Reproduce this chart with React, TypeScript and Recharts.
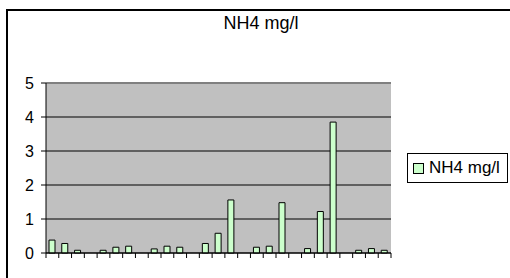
import { Bar, BarChart, CartesianGrid, Legend, ReferenceLine, XAxis, YAxis } from 'recharts';

const samples = [
    'S1', 'S2', 'S3', 'S4', 'S5', 'S6', 'S7', 'S8', 'S9',
    'S10', 'S11', 'S12', 'S13', 'S14', 'S15', 'S16', 'S17', 'S18',
    'S19', 'S20', 'S21', 'S22', 'S23', 'S24', 'S25', 'S26', 'S27',
];
const nh4 = [
    0.38, 0.28, 0.08, null, 0.08, 0.17, 0.2, null, 0.12,
    0.2, 0.17, null, 0.28, 0.58, 1.56, null, 0.17, 0.2,
    1.48, null, 0.13, 1.22, 3.85, null, 0.08, 0.13, 0.08,
];
const yTicks = [0, 1, 2, 3, 4, 5];

const data = samples.map((name, i) => ({ name, nh4: nh4[i] }));

const FONT = '"Liberation Sans", Arial, sans-serif';
const PLOT_W = 345;
const PLOT_BOTTOM = 253;
const step = PLOT_W / samples.length;

// excel style: tick marks sit between the categories, not under them
function BoundaryTick(props: any) {
    const { x, index } = props;
    const left = x - step / 2;
    return (
        <g>
            <line x1={left} x2={left} y1={PLOT_BOTTOM} y2={PLOT_BOTTOM + 5} stroke="#000" />
            {index === samples.length - 1 && (
                <line x1={x + step / 2} x2={x + step / 2} y1={PLOT_BOTTOM} y2={PLOT_BOTTOM + 5} stroke="#000" />
            )}
        </g>
    );
}

function LegendBox() {
    return (
        <div
            style={{
                border: '1px solid #000',
                background: '#fff',
                width: 99,
                height: 28,
                display: 'flex',
                alignItems: 'center',
                fontFamily: FONT,
                fontSize: 17,
                color: '#000',
            }}
        >
            <span
                style={{
                    display: 'inline-block',
                    width: 9,
                    height: 9,
                    background: '#ccffcc',
                    border: '1px solid #000',
                    marginLeft: 5,
                    marginRight: 5,
                }}
            />
            NH4 mg/l
        </div>
    );
}

export default function App() {
    return (
        <div
            style={{
                position: 'absolute',
                left: 0,
                top: 0,
                width: 510,
                height: 278,
                overflow: 'hidden',
                background: '#fff',
            }}
        >
            <div
                style={{
                    position: 'absolute',
                    left: 6,
                    top: 9,
                    width: 600,
                    height: 400,
                    borderLeft: '2px solid #000',
                    borderTop: '2px solid #000',
                }}
            />
            <div
                style={{
                    position: 'absolute',
                    left: 0,
                    top: 13,
                    width: 522,
                    textAlign: 'center',
                    fontFamily: FONT,
                    fontSize: 18,
                    color: '#000',
                }}
            >
                NH4 mg/l
            </div>
            <div style={{ position: 'absolute', left: 0, top: 0 }}>
                <BarChart
                    width={510}
                    height={278}
                    data={data}
                    margin={{ top: 83, right: 119, bottom: 15, left: 0 }}
                    barSize={6}
                >
                    <CartesianGrid
                        vertical={false}
                        fill="#c0c0c0"
                        stroke="#000"
                        fillOpacity={1}
                    />
                    <XAxis
                        dataKey="name"
                        height={10}
                        interval={0}
                        tickLine={false}
                        axisLine={{ stroke: '#000' }}
                        tick={<BoundaryTick />}
                    />
                    <YAxis
                        width={46}
                        domain={[0, 5]}
                        ticks={yTicks}
                        tickSize={5}
                        tickMargin={7}
                        axisLine={{ stroke: '#000' }}
                        tickLine={{ stroke: '#000' }}
                        tick={{ fill: '#000', fontSize: 16, fontFamily: FONT }}
                    />
                    <YAxis
                        yAxisId="frame"
                        orientation="right"
                        width={0}
                        domain={[0, 5]}
                        tick={false}
                        tickLine={false}
                        axisLine={{ stroke: '#808080', strokeWidth: 2 }}
                    />
                    <ReferenceLine y={5} stroke="#808080" strokeWidth={2} />
                    <Legend
                        layout="horizontal"
                        align="center"
                        verticalAlign="middle"
                        content={<LegendBox />}
                        wrapperStyle={{ left: 407, top: 153, width: 101 }}
                    />
                    <Bar
                        dataKey="nh4"
                        name="NH4 mg/l"
                        fill="#ccffcc"
                        stroke="#000"
                        strokeWidth={1}
                        isAnimationActive={false}
                    />
                </BarChart>
            </div>
        </div>
    );
}
